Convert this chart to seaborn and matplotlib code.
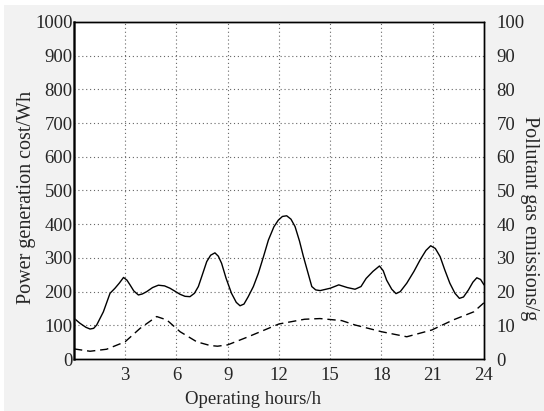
import numpy as np
import pandas as pd
import matplotlib
matplotlib.use('Agg')
import matplotlib.pyplot as plt
import seaborn as sns
from matplotlib.patches import Rectangle

# values
cost_hours = [0, 0.35, 0.7, 0.94, 1.15, 1.33, 1.72, 2.11, 2.4, 2.65, 2.9, 3.1, 3.28,
              3.5, 3.77, 4.0, 4.26, 4.6, 4.94, 5.3, 5.62, 6.21, 6.5, 6.79, 7.05,
              7.28, 7.5, 7.77, 8.0, 8.25, 8.45, 8.64, 8.9, 9.22, 9.5, 9.72, 9.95,
              10.2, 10.5, 10.79, 11.1, 11.38, 11.7, 11.96, 12.2, 12.45, 12.7, 12.94,
              13.2, 13.43, 13.7, 13.92, 14.15, 14.41, 15.0, 15.5, 16.0, 16.45, 16.8,
              17.1, 17.5, 17.88, 18.1, 18.3, 18.6, 18.85, 19.1, 19.48, 19.9, 20.26,
              20.6, 20.88, 21.15, 21.43, 21.7, 22.0, 22.3, 22.56, 22.8, 23.09, 23.35,
              23.58, 23.8, 24.0]
cost = [121, 106, 94, 89, 91, 101, 140, 195, 210, 225, 242, 234, 220,
        202, 190, 193, 200, 212, 219, 217, 210, 192, 186, 185, 195,
        215, 248, 289, 308, 315, 305, 284, 240, 195, 168, 158, 163,
        185, 215, 254, 305, 353, 392, 412, 423, 425, 415, 393,
        350, 304, 255, 215, 205, 203, 210, 220, 212, 207, 215,
        239, 260, 276, 262, 234, 207, 194, 200, 225, 260, 294,
        322, 336, 328, 304, 265, 225, 195, 180, 184, 205, 228,
        241, 236, 220]

gas_hours = [0, 0.94, 1.91, 2.99, 3.87, 4.84, 5.43, 6.21, 7.19, 7.97, 8.4, 9.0,
             10.2, 12.0, 13.5, 14.4, 15.67, 16.45, 18.0, 19.48, 20.94, 22.2,
             23.4, 24.0]
gas = [3.0, 2.3, 2.9, 5.1, 9.1, 12.6, 11.6, 8.1, 5.1, 4.0, 3.8, 4.2,
       6.6, 10.4, 11.8, 12.0, 11.4, 10.1, 8.1, 6.6, 8.6, 11.6,
       14.0, 16.7]

df_cost = pd.DataFrame({'hour': cost_hours, 'cost': cost})
df_gas = pd.DataFrame({'hour': gas_hours, 'gas': gas})

sns.set_style('white')
plt.rcParams['font.family'] = ['Liberation Serif', 'DejaVu Serif']
fs = 13.5

fig = plt.figure(figsize=(5.44, 4.11), dpi=100)
fig.patch.set_facecolor('white')
fig.patches.append(Rectangle((4 / 544, 0), 1, 1 - 5 / 411, transform=fig.transFigure,
                             facecolor='#f2f2f2', edgecolor='none', zorder=-10))

ax = fig.add_axes([0.136, 0.1265, 0.7537, 0.82])
ax.set_facecolor('white')
sns.lineplot(data=df_cost, x='hour', y='cost', ax=ax, color='black', lw=1.0)

ax2 = ax.twinx()
sns.lineplot(data=df_gas, x='hour', y='gas', ax=ax2, color='black', lw=1.0,
             linestyle=(0, (6, 3.5)))

ax.set_xlim(0, 24)
ax.set_ylim(0, 1000)
ax2.set_ylim(0, 100)
ax.set_xticks(range(3, 25, 3))
ax.set_yticks(range(0, 1001, 100))
ax2.set_yticks(range(0, 101, 10))

# dotted grid
for h in range(3, 24, 3):
    ax.axvline(h, color='#666666', ls=(0, (1, 2.5)), lw=0.8, zorder=0)
for v in range(100, 1000, 100):
    ax.axhline(v, color='#666666', ls=(0, (1, 2.5)), lw=0.8, zorder=0)

ax.tick_params(axis='both', length=0, labelsize=fs)
ax.tick_params(axis='y', pad=1)
ax.tick_params(axis='x', pad=6)
ax2.tick_params(axis='y', length=0, pad=9, labelsize=fs)

for a in (ax, ax2):
    for s in a.spines.values():
        s.set_color('black')
        s.set_linewidth(1.0)
ax.spines['left'].set_linewidth(1.8)
ax.spines['left'].set_color('#333333')

ax.set_xlabel('')
ax.set_ylabel('')
ax2.set_ylabel('')
fig.text(253 / 544, 1 - 399 / 411, 'Operating hours/h', fontsize=fs,
         ha='center', va='center')
fig.text(27 / 544, 1 - 197 / 411, 'Power generation cost/Wh', fontsize=14.5,
         rotation=90, ha='center', va='center')
fig.text(529 / 544, 1 - 218 / 411, 'Pollutant gas emissions/g', fontsize=14.5,
         rotation=270, ha='center', va='center')

fig.savefig('out.png', dpi=100)
